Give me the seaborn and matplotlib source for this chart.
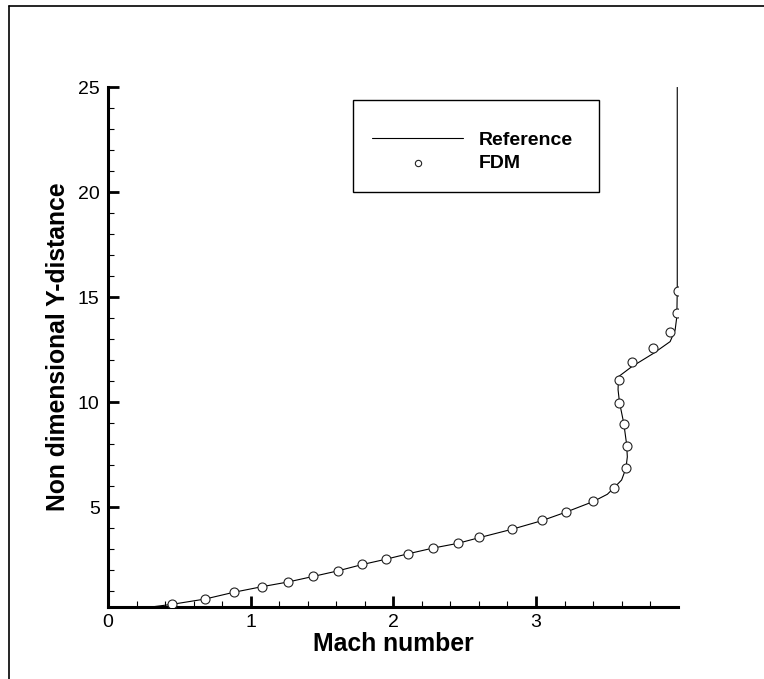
import numpy as np
import pandas as pd
import matplotlib
matplotlib.use("Agg")
import matplotlib.pyplot as plt
from matplotlib.lines import Line2D
from matplotlib.patches import Rectangle
from matplotlib.ticker import MultipleLocator
import seaborn as sns

# Reference boundary-layer Mach profile
ref_mach = [0.30, 0.45, 0.68, 0.88, 1.08, 1.26, 1.44, 1.61, 1.78, 1.95, 2.10,
            2.28, 2.45, 2.60, 2.83, 3.04, 3.21, 3.40, 3.50, 3.55, 3.60, 3.63,
            3.64, 3.635, 3.615, 3.585, 3.575, 3.578, 3.672, 3.823, 3.94, 3.975,
            3.987, 3.99, 3.99]
ref_y = [0.25, 0.38, 0.63, 0.95, 1.22, 1.44, 1.71, 1.97, 2.27, 2.53, 2.78,
         3.06, 3.28, 3.55, 3.95, 4.36, 4.77, 5.27, 5.62, 5.95, 6.30, 6.85,
         7.40, 8.00, 9.00, 10.00, 10.60, 11.22, 11.70, 12.33, 12.89, 13.44,
         14.08, 15.35, 25.00]

# Finite-difference solution
fdm_mach = [0.45, 0.68, 0.88, 1.08, 1.26, 1.44, 1.61, 1.78, 1.95, 2.10, 2.28,
            2.45, 2.60, 2.83, 3.04, 3.21, 3.40, 3.55, 3.632, 3.641, 3.618,
            3.585, 3.585, 3.674, 3.819, 3.94, 3.985, 3.995]
fdm_y = [0.41, 0.65, 0.97, 1.22, 1.45, 1.73, 1.98, 2.29, 2.55, 2.79, 3.08,
         3.29, 3.57, 3.97, 4.38, 4.79, 5.29, 5.94, 6.85, 7.93, 8.98,
         9.98, 11.06, 11.90, 12.60, 13.35, 14.25, 15.31]

x_ticks = [0, 1, 2, 3]
y_ticks = [5, 10, 15, 20, 25]

ref = pd.DataFrame({"mach": ref_mach, "y": ref_y})
fdm = pd.DataFrame({"mach": fdm_mach, "y": fdm_y})

sns.set_style("white")
plt.rcParams["font.family"] = ["Liberation Sans", "DejaVu Sans"]
plt.rcParams["text.color"] = "black"
plt.rcParams["axes.labelcolor"] = "black"

fig = plt.figure(figsize=(7.64, 6.79), dpi=100)
ax = fig.add_axes([0.1414, 0.106, 0.746, 0.7654])

sns.lineplot(data=ref, x="mach", y="y", sort=False, estimator=None,
             color="black", linewidth=0.8, ax=ax, label="Reference")
sns.scatterplot(data=fdm, x="mach", y="y", marker="o", s=42,
                facecolor="white", edgecolor="#222222", linewidth=0.8,
                ax=ax, label="FDM", zorder=3)

ax.set_xlim(0, 3.995)
ax.set_ylim(0.25, 25)
ax.set_xticks(x_ticks)
ax.set_yticks(y_ticks)
ax.xaxis.set_minor_locator(MultipleLocator(0.2))
ax.yaxis.set_minor_locator(MultipleLocator(1))

for side in ("top", "right"):
    ax.spines[side].set_visible(False)
for side in ("left", "bottom"):
    ax.spines[side].set_linewidth(2.2)
    ax.spines[side].set_color("black")

ax.tick_params(which="major", direction="in", length=8, width=2.0,
               labelsize=14, pad=5, colors="black")
ax.tick_params(which="minor", direction="in", length=4.5, width=0.8,
               colors="black")
ax.tick_params(axis="y", which="major", pad=6)
ax.tick_params(left=True, bottom=True, which="both")

ax.set_xlabel("Mach number", fontsize=17.8, fontweight="bold", labelpad=1)
ax.set_ylabel("Non dimensional Y-distance", fontsize=17.8, fontweight="bold",
              labelpad=6)

# Legend entries, with a separately drawn box around them
leg = ax.legend(loc="upper left", bbox_to_anchor=(0.4223, 0.9596),
                fontsize=14, frameon=False,
                handlelength=4.7, handletextpad=0.8, borderpad=1.2,
                labelspacing=0.25, borderaxespad=0, markerscale=0.7)
for t in leg.get_texts():
    t.set_fontweight("bold")
fig.add_artist(Rectangle((353 / 764, 1 - 192 / 679), 246 / 764, 92 / 679,
                         transform=fig.transFigure, facecolor="none",
                         edgecolor="black", linewidth=1.0))

# Page frame
fig.add_artist(Line2D([9 / 764, 9 / 764], [0, 1 - 6 / 679],
                      transform=fig.transFigure, color="black", linewidth=1.2))
fig.add_artist(Line2D([9 / 764, 1], [1 - 6 / 679, 1 - 6 / 679],
                      transform=fig.transFigure, color="black", linewidth=1.2))

fig.savefig("out.png", dpi=100, facecolor="white")
